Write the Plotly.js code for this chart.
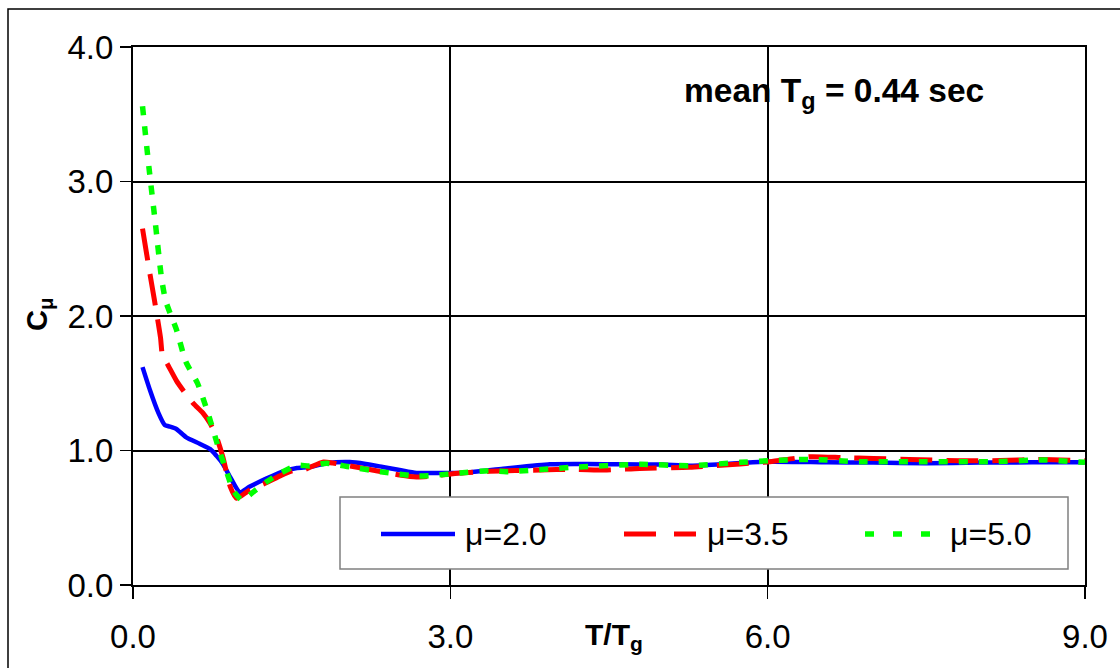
<!DOCTYPE html>
<html>
<head>
<meta charset="utf-8">
<script src="https://cdn.plot.ly/plotly-3.0.1.min.js"></script>
<style>html,body{margin:0;padding:0;background:#fff;}#chart{width:1120px;height:668px;}</style>
</head>
<body>
<div id="chart"></div>
<script>
// ---- data ----
const seriesNames = ["μ=2.0", "μ=3.5", "μ=5.0"];

const tMu20 = [0.09,0.16,0.24,0.30,0.34,0.41,0.50,0.63,0.73,0.79,0.85,0.92,1.01,1.10,1.27,1.40,1.55,1.67,1.83,2.05,2.20,2.36,2.52,2.68,2.84,3.09,3.50,3.94,4.30,4.60,5.00,5.26,5.60,6.02,6.56,7.00,7.50,8.00,8.50,9.00];
const cMu20 = [1.62,1.45,1.28,1.19,1.18,1.16,1.10,1.05,1.01,0.96,0.90,0.80,0.69,0.73,0.795,0.84,0.87,0.877,0.905,0.914,0.90,0.878,0.855,0.833,0.833,0.833,0.865,0.898,0.90,0.897,0.895,0.887,0.90,0.917,0.912,0.91,0.905,0.91,0.912,0.912];

const tMu35 = [0.09,0.15,0.20,0.26,0.28,0.32,0.41,0.49,0.57,0.66,0.73,0.79,0.85,0.92,0.98,1.10,1.26,1.40,1.51,1.61,1.80,1.89,2.05,2.21,2.52,2.68,2.84,3.09,3.37,3.85,4.16,4.48,4.79,5.26,5.74,6.02,6.40,6.71,7.00,7.34,7.82,8.20,8.60,9.00];
const cMu35 = [2.65,2.36,2.13,1.84,1.70,1.65,1.52,1.43,1.35,1.28,1.20,1.10,0.95,0.73,0.645,0.705,0.76,0.815,0.85,0.855,0.915,0.907,0.885,0.862,0.818,0.803,0.81,0.833,0.845,0.855,0.86,0.855,0.867,0.875,0.90,0.917,0.954,0.947,0.94,0.934,0.924,0.925,0.934,0.924];

const tMu50 = [0.09,0.15,0.21,0.27,0.31,0.41,0.50,0.61,0.70,0.785,0.82,0.89,0.95,1.03,1.15,1.26,1.39,1.55,1.67,1.83,2.05,2.36,2.68,2.84,3.09,3.37,3.53,4.16,4.79,5.26,5.74,6.02,6.40,6.87,7.50,8.13,8.60,9.00];
const cMu50 = [3.56,3.11,2.70,2.28,2.11,1.90,1.66,1.50,1.30,1.08,0.99,0.83,0.70,0.632,0.70,0.765,0.83,0.89,0.885,0.905,0.878,0.84,0.81,0.815,0.833,0.85,0.842,0.875,0.897,0.887,0.912,0.924,0.934,0.917,0.917,0.917,0.93,0.912];

const xTickVals = [0, 3, 6, 9];
const yTickVals = [0, 1, 2, 3, 4];

// ---- styles ----
const FONT = "Liberation Sans, Arial, sans-serif";
const styles = [
  {color: "#0000FF", width: 4.5, dash: "solid"},
  {color: "#FF0000", width: 5, dash: "32px,14px"},
  {color: "#00FF00", width: 5.5, dash: "9px,11px"}
];

const W = 1120, H = 668;
const M = {l: 133, r: 35, t: 47, b: 83};
const PW = W - M.l - M.r, PH = H - M.t - M.b;
const px = x => (x - M.l) / PW;        // pixel -> paper x
const py = y => (H - M.b - y) / PH;    // pixel -> paper y

const seriesT = [tMu20, tMu35, tMu50];
const seriesC = [cMu20, cMu35, cMu50];

const traces = seriesNames.map((n, i) => ({
  type: "scatter", mode: "lines", name: n,
  x: seriesT[i], y: seriesC[i],
  line: {color: styles[i].color, width: styles[i].width, dash: styles[i].dash, shape: "spline", smoothing: 0.6},
  showlegend: false, hoverinfo: "x+y+name"
}));

// custom legend (box + samples + labels)
const legendBox = {x0: 340, x1: 1068, y0: 497, y1: 569};
const sampleX = [[381, 455], [624, 696], [865, 935]];
const labelX = [463, 705, 948];
const legendY = 534;

const shapes = [
  // outer chart border
  {type: "rect", xref: "paper", yref: "paper", x0: px(8), x1: px(1135), y0: py(9), y1: py(700),
   line: {color: "#000", width: 1.5}, fillcolor: "rgba(0,0,0,0)", layer: "below"},
  {type: "rect", xref: "paper", yref: "paper", layer: "above",
   x0: px(legendBox.x0), x1: px(legendBox.x1), y0: py(legendBox.y1), y1: py(legendBox.y0),
   line: {color: "#808080", width: 1.5}, fillcolor: "#fff"}
];
const legendLegDash = ["solid", "32px,18px", "9px,19px"];
seriesNames.forEach((n, i) => {
  shapes.push({type: "line", xref: "paper", yref: "paper", layer: "above",
    x0: px(sampleX[i][0]), x1: px(sampleX[i][1]), y0: py(legendY), y1: py(legendY),
    line: {color: styles[i].color, width: styles[i].width, dash: legendLegDash[i]}});
});

const annotations = seriesNames.map((n, i) => ({
  xref: "paper", yref: "paper", x: px(labelX[i]), y: py(legendY),
  xanchor: "left", yanchor: "middle", showarrow: false, text: n,
  font: {family: FONT, size: 32, color: "#000"}
}));
annotations.push(
  {xref: "paper", yref: "paper", x: px(834), y: py(93), xanchor: "center", yanchor: "middle",
   showarrow: false, text: "<b>mean T<sub>g</sub> = 0.44 sec</b>",
   font: {family: FONT, size: 33.5, color: "#000"}},
  {xref: "paper", yref: "paper", x: px(614), y: py(636), xanchor: "center", yanchor: "middle",
   showarrow: false, text: "<b>T/T<sub>g</sub></b>",
   font: {family: FONT, size: 30, color: "#000"}},
  {xref: "paper", yref: "paper", x: px(39), y: py(315), xanchor: "center", yanchor: "middle",
   showarrow: false, textangle: -90, text: "<b>C<sub>μ</sub></b>",
   font: {family: FONT, size: 29, color: "#000"}}
);

const layout = {
  width: W, height: H,
  margin: M,
  paper_bgcolor: "#fff", plot_bgcolor: "#fff",
  font: {family: FONT, size: 32, color: "#000"},
  showlegend: false,
  xaxis: {
    range: [0, 9], tickvals: xTickVals, tickformat: ".1f",
    showgrid: true, gridcolor: "#000", gridwidth: 2,
    showline: true, linecolor: "#000", linewidth: 2, mirror: true,
    ticks: "outside", ticklen: 12, tickwidth: 1.5, tickcolor: "#000",
    ticklabelstandoff: 9,
    zeroline: false, fixedrange: true,
    tickfont: {family: FONT, size: 33, color: "#000"}
  },
  yaxis: {
    range: [0, 4], tickvals: yTickVals, tickformat: ".1f",
    showgrid: true, gridcolor: "#000", gridwidth: 2,
    showline: true, linecolor: "#000", linewidth: 2, mirror: true,
    ticks: "outside", ticklen: 11, tickwidth: 1.5, tickcolor: "#000",
    zeroline: false, fixedrange: true,
    tickfont: {family: FONT, size: 33, color: "#000"}
  },
  shapes: shapes,
  annotations: annotations
};

Plotly.newPlot("chart", traces, layout, {displayModeBar: false, staticPlot: true});
</script>
</body>
</html>
